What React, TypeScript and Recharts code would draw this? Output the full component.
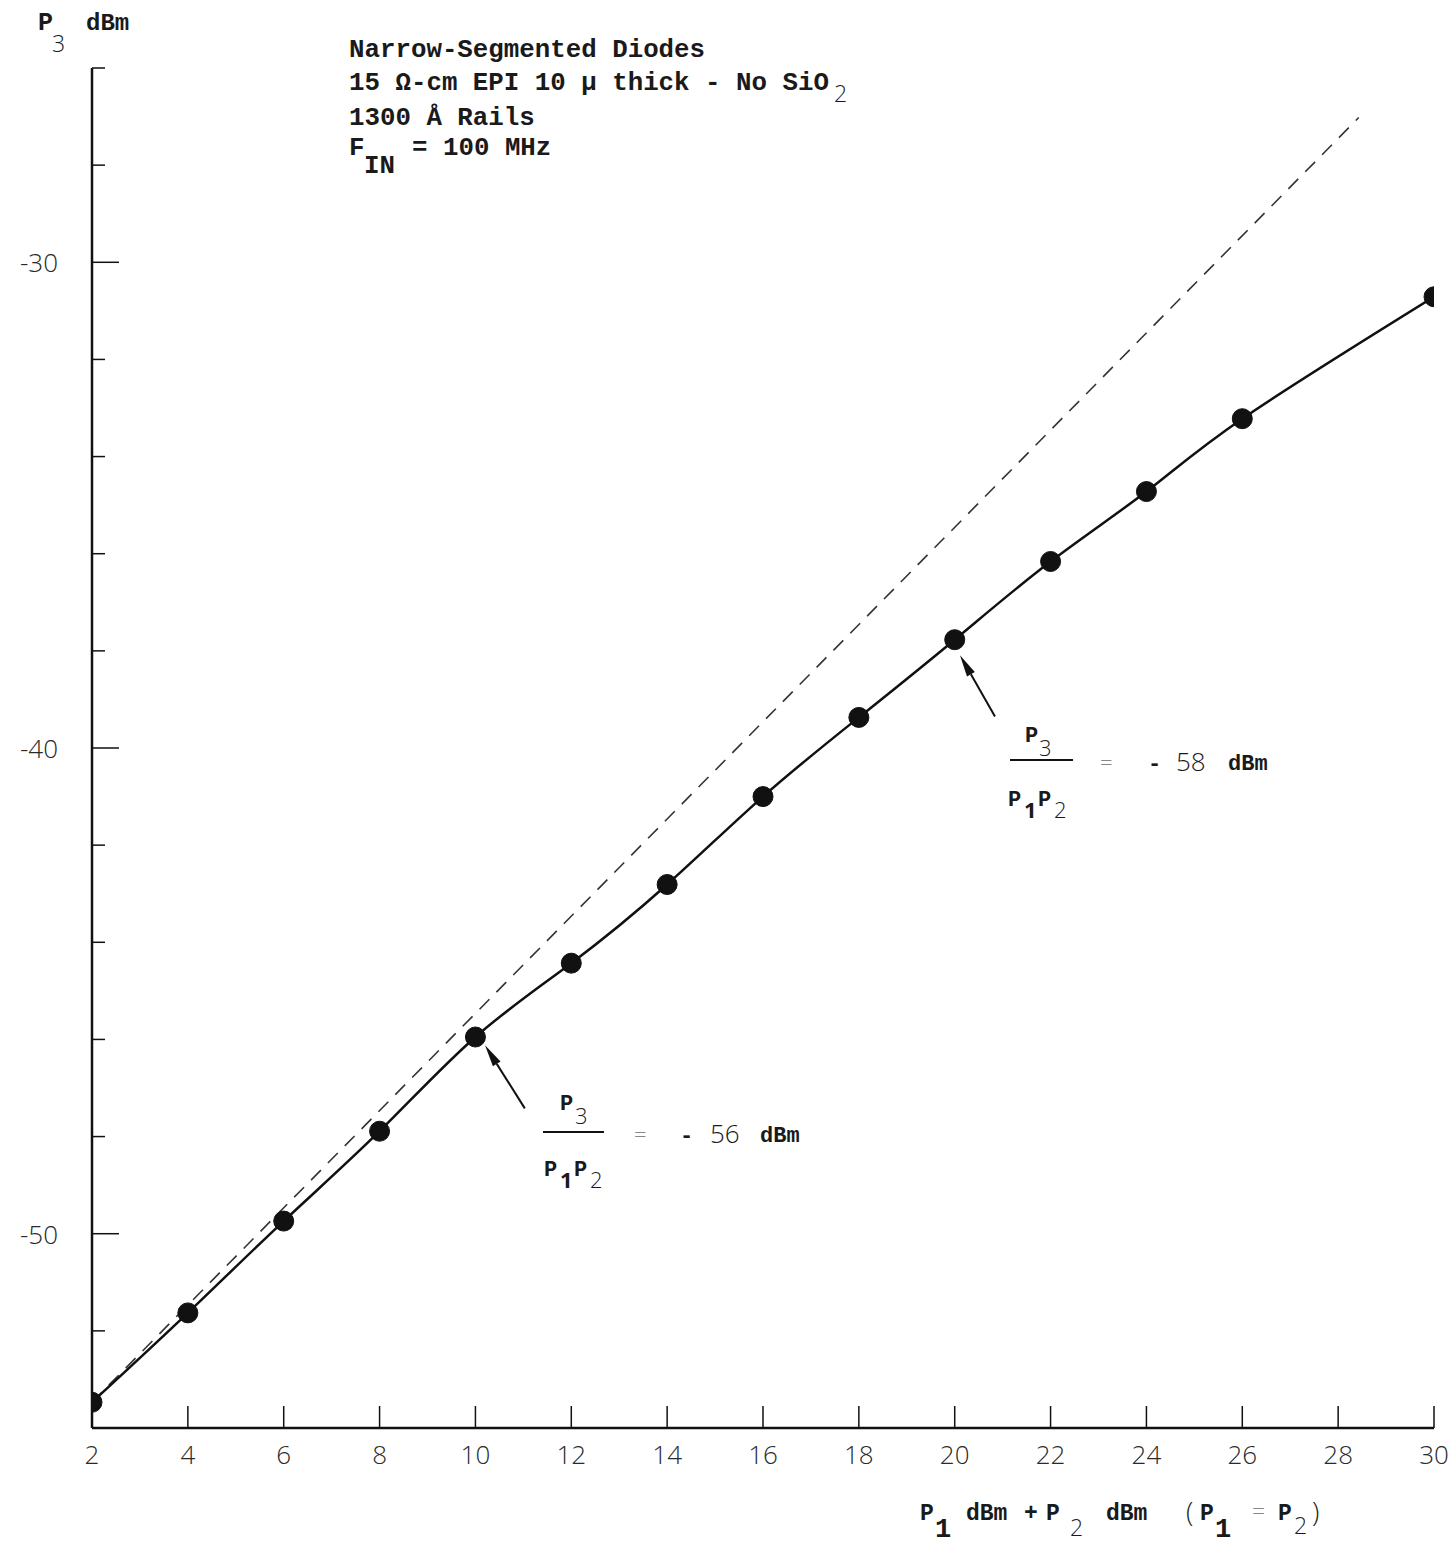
import React from 'react';
import { ComposedChart, Line, XAxis, YAxis, ReferenceLine, Customized } from 'recharts';

const inputPower = [2, 4, 6, 8, 10, 12, 14, 16, 18, 20, 22, 24, 26, 30];
const p3Power = [-53.47, -51.63, -49.74, -47.89, -45.95, -44.43, -42.81, -41.0, -39.37, -37.77, -36.16, -34.72, -33.22, -30.71];
const slopeX = [2, 28.43];
const slopeY = [-53.47, -27.02];
const xTicks = [2, 4, 6, 8, 10, 12, 14, 16, 18, 20, 22, 24, 26, 28, 30];
const yTicks = [-54, -52, -50, -48, -46, -44, -42, -40, -38, -36, -34, -32, -30, -28, -26];
const yLabelled = [-30, -40, -50];
const arrowA = [{ x: 20.84, y: -39.35 }, { x: 20.11, y: -38.09 }];
const arrowB = [{ x: 11.03, y: -47.42 }, { x: 10.2, y: -46.12 }];

const measured = inputPower.map((x, i) => ({ x, y: p3Power[i] }));
const slopeLine = slopeX.map((x, i) => ({ x, y: slopeY[i] }));

const TYPE = '"Liberation Mono", "DejaVu Sans Mono", monospace';
const HAND = '"Open Sans", "DejaVu Sans", sans-serif';
const INK = '#111';

const XTick = (props: any) => {
  const { x, y, payload } = props;
  return (
    <g>
      <line x1={x} y1={y} x2={x} y2={y - 22} stroke={INK} strokeWidth={1.5} />
      <text x={x} y={y + 36} textAnchor="middle" fontFamily={HAND} fontSize={26} fontWeight={300} fill="#2a2a2a">
        {payload.value}
      </text>
    </g>
  );
};

const YTick = (props: any) => {
  const { x, y, payload } = props;
  const v = payload.value;
  const major = yLabelled.includes(v);
  if (v === -54) return <g />;
  return (
    <g>
      <line x1={x} y1={y} x2={x + (major ? 27 : 13)} y2={y} stroke={INK} strokeWidth={1.5} />
      {major && (
        <text x={x - 34} y={y + 10} textAnchor="end" fontFamily={HAND} fontSize={26} fontWeight={300} fill="#2a2a2a">
          {String(v)}
        </text>
      )}
    </g>
  );
};

const ArrowShape = (props: any) => {
  const { x1, y1, x2, y2 } = props;
  const ang = Math.atan2(y2 - y1, x2 - x1);
  const len = 22;
  const w = 4.5;
  const bx = x2 - len * Math.cos(ang);
  const by = y2 - len * Math.sin(ang);
  const px = -Math.sin(ang) * w;
  const py = Math.cos(ang) * w;
  return (
    <g>
      <line x1={x1} y1={y1} x2={bx} y2={by} stroke={INK} strokeWidth={2} />
      <polygon points={`${x2},${y2} ${bx + px},${by + py} ${bx - px},${by - py}`} fill={INK} />
    </g>
  );
};

const Annotations = () => (
  <g fill="#1a1a1a">
    {/* y-axis title */}
    <text x={38} y={30} fontFamily={TYPE} fontSize={25} fontWeight="bold">P</text>
    <text x={52} y={52} fontFamily={HAND} fontSize={23} fontWeight={300}>3</text>
    <text x={86} y={30} fontFamily={TYPE} fontSize={24} fontWeight="bold">dBm</text>

    {/* header block */}
    <g fontFamily={TYPE} fontSize={25.8} fontWeight="bold">
      <text x={349} y={57}>Narrow-Segmented Diodes</text>
      <text x={349} y={90}>15 Ω-cm EPI 10 µ thick - No SiO</text>
      <text x={834} y={102} fontFamily={HAND} fontWeight={300} fontSize={23}>2</text>
      <text x={349} y={125}>1300 Å Rails</text>
      <text x={349} y={155}>F</text>
      <text x={364} y={173}>IN</text>
      <text x={412} y={155}>= 100 MHz</text>
    </g>

    {/* annotation at 20 dBm */}
    <g fontFamily={TYPE} fontSize={22} fontWeight="bold">
      <text x={1025} y={742}>P</text>
      <text x={1039} y={756} fontFamily={HAND} fontWeight={300}>3</text>
      <line x1={1010} y1={760} x2={1073} y2={760} stroke={INK} strokeWidth={2} />
      <text x={1100} y={770} fontFamily={HAND} fontWeight={300} fill="#888">=</text>
      <text x={1148} y={770}>-</text>
      <text x={1176} y={771} fontFamily={HAND} fontWeight={300} fontSize={26}>58</text>
      <text x={1228} y={770}>dBm</text>
      <text x={1008} y={806}>P</text>
      <text x={1024} y={818} fontFamily={HAND}>1</text>
      <text x={1038} y={806}>P</text>
      <text x={1054} y={818} fontFamily={HAND} fontWeight={300}>2</text>
    </g>

    {/* annotation at 10 dBm */}
    <g fontFamily={TYPE} fontSize={22} fontWeight="bold">
      <text x={560} y={1110}>P</text>
      <text x={575} y={1124} fontFamily={HAND} fontWeight={300}>3</text>
      <line x1={543} y1={1132} x2={604} y2={1132} stroke={INK} strokeWidth={2} />
      <text x={634} y={1142} fontFamily={HAND} fontWeight={300} fill="#888">=</text>
      <text x={680} y={1142}>-</text>
      <text x={710} y={1143} fontFamily={HAND} fontWeight={300} fontSize={26}>56</text>
      <text x={760} y={1142}>dBm</text>
      <text x={544} y={1176}>P</text>
      <text x={560} y={1188} fontFamily={HAND}>1</text>
      <text x={574} y={1176}>P</text>
      <text x={590} y={1188} fontFamily={HAND} fontWeight={300}>2</text>
    </g>

    {/* x-axis title */}
    <g fontFamily={TYPE} fontSize={23} fontWeight="bold">
      <text x={920} y={1520}>P</text>
      <text x={935} y={1537} fontSize={27}>1</text>
      <text x={966} y={1520}>dBm</text>
      <text x={1024} y={1520}>+</text>
      <text x={1046} y={1520}>P</text>
      <text x={1070} y={1536} fontFamily={HAND} fontWeight={300}>2</text>
      <text x={1106} y={1520}>dBm</text>
      <text x={1186} y={1522} fontFamily={HAND} fontWeight={300} fontSize={27}>(</text>
      <text x={1200} y={1520}>P</text>
      <text x={1215} y={1537} fontSize={27}>1</text>
      <text x={1252} y={1520} fontFamily={HAND} fontWeight={300} fill="#888">=</text>
      <text x={1278} y={1520}>P</text>
      <text x={1294} y={1534} fontFamily={HAND} fontWeight={300}>2</text>
      <text x={1312} y={1522} fontFamily={HAND} fontWeight={300} fontSize={27}>)</text>
    </g>
  </g>
);

export default function App() {
  return (
    <div style={{ position: 'absolute', left: 0, top: 0, width: 1454, height: 1545, background: '#fff' }}>
      <ComposedChart width={1454} height={1545} margin={{ top: 68, right: 20, bottom: 0, left: 0 }}>
        <XAxis
          type="number"
          dataKey="x"
          domain={[2, 30]}
          ticks={xTicks}
          allowDataOverflow
          height={117}
          tickSize={0}
          tickMargin={0}
          axisLine={{ stroke: INK, strokeWidth: 2.5 }}
          tickLine={false}
          tick={<XTick />}
          interval={0}
        />
        <YAxis
          type="number"
          dataKey="y"
          domain={[-54, -26]}
          ticks={yTicks}
          allowDataOverflow
          width={92}
          tickSize={0}
          tickMargin={0}
          axisLine={{ stroke: INK, strokeWidth: 2.5 }}
          tickLine={false}
          tick={<YTick />}
          interval={0}
        />
        <Line
          data={slopeLine}
          dataKey="y"
          type="linear"
          stroke="#333"
          strokeWidth={1.6}
          strokeDasharray="14 10"
          dot={false}
          isAnimationActive={false}
        />
        <Line
          data={measured}
          dataKey="y"
          type="natural"
          stroke={INK}
          strokeWidth={2.5}
          dot={{ r: 10, fill: INK, stroke: INK, strokeWidth: 1 }}
          isAnimationActive={false}
        />
        <ReferenceLine segment={arrowA} shape={<ArrowShape />} stroke={INK} />
        <ReferenceLine segment={arrowB} shape={<ArrowShape />} stroke={INK} />
        <Customized component={Annotations} />
      </ComposedChart>
    </div>
  );
}
